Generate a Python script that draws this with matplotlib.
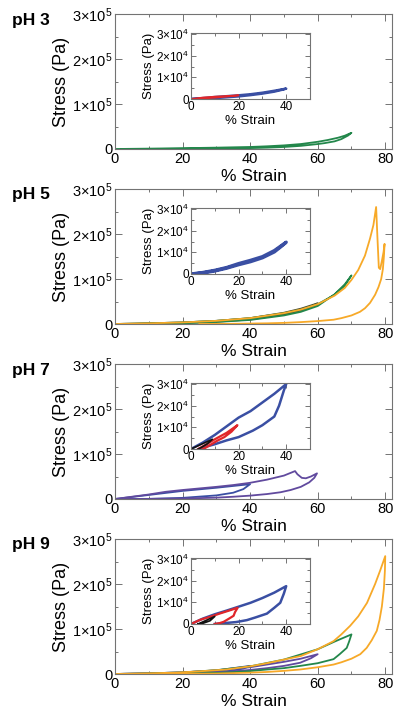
import matplotlib
matplotlib.use("Agg")
import matplotlib.pyplot as plt
from matplotlib.ticker import MultipleLocator, FixedLocator, FixedFormatter

plt.rcParams['font.family'] = ['Liberation Sans', 'DejaVu Sans']
plt.rcParams['mathtext.fontset'] = 'custom'
plt.rcParams['mathtext.rm'] = 'Liberation Sans'
plt.rcParams['mathtext.it'] = 'Liberation Sans:italic'
plt.rcParams['mathtext.bf'] = 'Liberation Sans:bold'

# ---------------- data ----------------
panel_labels = ['pH 3', 'pH 5', 'pH 7', 'pH 9']
main_yticks = [0, 1e5, 2e5, 3e5]
main_ylabels = ['0', r'$1{\times}10^5$', r'$2{\times}10^5$', r'$3{\times}10^5$']
inset_yticks = [0, 1e4, 2e4, 3e4]
inset_ylabels = ['0', r'$1{\times}10^4$', r'$2{\times}10^4$', r'$3{\times}10^4$']
main_xticks = [0, 20, 40, 60, 80]
inset_xticks = [0, 20, 40]

# pH 3 main
ph3_green_strain = [0, 10, 20, 30, 40, 45, 50, 55, 60, 63, 66, 68, 70,
                    69, 67, 65, 62, 60, 55, 50, 45, 40, 30, 20, 10, 2]
ph3_green_stress = [0, 800, 1800, 3000, 4500, 6000, 8000, 11000, 16000, 20000, 25000, 29500, 36000,
                    30000, 22000, 17000, 13000, 11000, 7000, 4500, 3000, 2000, 1000, 400, 100, 0]
# pH 3 inset
ph3_in_blue_strain = [0, 5, 10, 15, 20, 25, 30, 35, 40, 38, 35, 30, 25, 20, 15, 10, 5, 1]
ph3_in_blue_stress = [0, 400, 900, 1300, 1700, 2200, 2900, 3800, 4800,
                      4200, 3400, 2500, 1800, 1200, 800, 400, 100, 0]
ph3_in_red_strain = [0, 5, 10, 15, 20, 15, 10, 5, 1]
ph3_in_red_stress = [0, 700, 1100, 1400, 1700, 1100, 600, 200, 0]

# pH 5 main
ph5_dark_strain = [0, 10, 20, 30, 40, 50, 55, 60, 58, 55, 50, 40, 30, 20, 10, 3]
ph5_dark_stress = [0, 1500, 3500, 7000, 13000, 25000, 34000, 46000,
                   38000, 30000, 21000, 10000, 5000, 2000, 500, 0]
ph5_green_strain = [0, 10, 20, 30, 40, 50, 55, 60, 65, 68, 70,
                    68, 65, 60, 55, 50, 40, 30, 20, 10, 3]
ph5_green_stress = [0, 1500, 3500, 7000, 13000, 24000, 32000, 44000, 65000, 85000, 108000,
                    88000, 66000, 40000, 27000, 19000, 9000, 4500, 1800, 400, 0]
ph5_orange_strain = [0, 10, 20, 30, 40, 50, 55, 60, 65, 68, 70, 72, 74, 75.5, 76.5, 77.3,
                     77.7, 78.1, 78.5, 79.0, 79.5, 79.8,
                     79.6, 79.3, 78.8, 78.0, 77.0, 75.5, 74.0, 72.5, 70, 67, 64.7,
                     60, 55, 50, 45, 35, 25]
ph5_orange_stress = [0, 1500, 3500, 7000, 13000, 24000, 32000, 44000, 63000, 80000, 98000,
                     120000, 152000, 190000, 220000, 260000,
                     190000, 125000, 122000, 140000, 160000, 178000,
                     150000, 122000, 100000, 82000, 65000, 47000, 35000, 27000, 19000,
                     13000, 9500, 6500, 4200, 2500, 1500, 500, 0]
# pH 5 inset
ph5_in_blue_strain = [0, 5, 10, 15, 20, 25, 30, 35, 40, 38, 35, 30, 25, 20, 15, 10, 5, 1]
ph5_in_blue_stress = [0, 700, 1700, 3000, 4800, 6300, 8000, 10800, 14700,
                      12800, 10200, 7500, 5700, 4300, 2700, 1400, 500, 0]
ph5_in_black_strain = [0, 4, 8, 10, 8, 4, 1]
ph5_in_black_stress = [0, 600, 1300, 1800, 1000, 300, 0]

# pH 7 main
ph7_blue_strain = [0, 10, 20, 30, 40, 38, 35, 30, 20, 10, 3]
ph7_blue_stress = [0, 9000, 18000, 25000, 33000, 22000, 14000, 8000, 2500, 300, 0]
ph7_purple_strain = [0, 10, 15, 20, 30, 35, 40, 45, 50, 53.3, 54, 55.3, 56.5, 58, 59.8,
                     59, 57.5, 55, 52, 49, 45, 40, 35, 30, 20, 10, 3]
ph7_purple_stress = [0, 10000, 16000, 20000, 27000, 31000, 36000, 43000, 52000, 62000,
                     55000, 47000, 46000, 50000, 57000,
                     47000, 37000, 27000, 20000, 15000, 11000, 7500, 5000, 3000, 1000, 200, 0]
# pH 7 inset
ph7_in_blue_strain = [0, 5, 10, 15, 20, 25, 30, 35, 40, 39, 37, 35, 30, 26, 20, 15, 10, 6.7, 3.5]
ph7_in_blue_stress = [0, 3000, 6500, 10500, 14500, 17500, 21500, 25500, 30000,
                      27000, 20000, 15000, 11000, 8500, 5500, 4000, 2200, 1200, 0]
ph7_in_red_strain = [3, 7, 10, 15, 19.5, 17, 14, 11, 8, 6, 5]
ph7_in_red_stress = [0, 2500, 4500, 7500, 11000, 8000, 5500, 3800, 1800, 500, 0]
ph7_in_black_strain = [0, 5, 9, 7, 4, 3]
ph7_in_black_stress = [0, 2500, 4500, 2500, 500, 0]

# pH 9 main
ph9_blue_strain = [0, 10, 20, 30, 40, 38, 35, 30, 25, 20, 10, 5]
ph9_blue_stress = [0, 1500, 3500, 8000, 18000, 12000, 8000, 5000, 3000, 1500, 300, 0]
ph9_purple_strain = [0, 10, 20, 30, 40, 50, 55, 60, 58, 54.8, 50, 45, 40, 35, 30, 20, 10, 5]
ph9_purple_stress = [0, 1500, 3500, 8000, 15000, 27000, 34000, 44000,
                     35000, 25000, 18000, 13000, 9000, 6000, 4000, 1500, 200, 0]
ph9_green_strain = [0, 10, 20, 30, 40, 50, 60, 65, 70, 69.3, 68.6, 66.5, 64.7, 60, 54.8,
                    50, 45, 40, 35, 30, 20, 10]
ph9_green_stress = [0, 1500, 3500, 8500, 17000, 32000, 55000, 72000, 88000, 72000, 58000,
                    44000, 33000, 24000, 18000, 13000, 10000, 6500, 4000, 2500, 800, 0]
ph9_orange_strain = [0, 10, 18, 25, 33, 40, 45, 50, 55, 60, 64.7, 67, 69.6, 72, 74.6, 77,
                     78.5, 80,
                     79.9, 79.6, 79.0, 78.3, 77.5, 76.0, 74.5, 72.6, 70, 67, 64.7, 60, 54.8,
                     50, 45, 40, 30, 20, 12]
ph9_orange_stress = [0, 1500, 3000, 6000, 10000, 17000, 24000, 32000, 40000, 55000, 73000,
                     88000, 107000, 128000, 158000, 200000, 230000, 262000,
                     230000, 190000, 150000, 120000, 96000, 75000, 58000, 44000, 34000,
                     26000, 21000, 15000, 10000, 7000, 4500, 3000, 1000, 200, 0]
# pH 9 inset
ph9_in_blue_strain = [0, 5, 10, 15, 20, 25, 30, 35, 40, 39, 37.5, 35, 31.9, 27, 23.5, 19, 15, 10]
ph9_in_blue_stress = [0, 2500, 4500, 6200, 8000, 9800, 12000, 14500, 17500,
                      14000, 9800, 7500, 4800, 3000, 1800, 900, 500, 0]
ph9_in_red_strain = [0, 4, 8, 12, 16, 19.6, 18.5, 17.9, 16, 13.7, 12, 10]
ph9_in_red_stress = [0, 2000, 3300, 4800, 6200, 7500, 5500, 3800, 2500, 1000, 400, 0]
ph9_in_black_strain = [3, 6, 10, 8, 5, 3]
ph9_in_black_stress = [0, 1500, 3500, 1500, 300, 0]

# ---------------- styles ----------------
GREEN = '#23874b'
ORANGE = '#f7a928'
BLUE = '#3a4fa3'
PURPLE = '#614a9e'
RED = '#e0262a'
DARK = '#4a4a2e'
BLACK = '#111111'

main_curves = [
    [(ph3_green_strain, ph3_green_stress, GREEN)],
    [(ph5_dark_strain, ph5_dark_stress, DARK),
     (ph5_green_strain, ph5_green_stress, GREEN),
     (ph5_orange_strain, ph5_orange_stress, ORANGE)],
    [(ph7_blue_strain, ph7_blue_stress, BLUE),
     (ph7_purple_strain, ph7_purple_stress, PURPLE)],
    [(ph9_blue_strain, ph9_blue_stress, BLUE),
     (ph9_purple_strain, ph9_purple_stress, PURPLE),
     (ph9_green_strain, ph9_green_stress, GREEN),
     (ph9_orange_strain, ph9_orange_stress, ORANGE)],
]
inset_curves = [
    [(ph3_in_blue_strain, ph3_in_blue_stress, BLUE, 1.8),
     (ph3_in_red_strain, ph3_in_red_stress, RED, 1.2)],
    [(ph5_in_black_strain, ph5_in_black_stress, BLACK, 1.2),
     (ph5_in_blue_strain, ph5_in_blue_stress, BLUE, 2.4)],
    [(ph7_in_blue_strain, ph7_in_blue_stress, BLUE, 1.8),
     (ph7_in_red_strain, ph7_in_red_stress, RED, 1.6),
     (ph7_in_black_strain, ph7_in_black_stress, BLACK, 1.2)],
    [(ph9_in_blue_strain, ph9_in_blue_stress, BLUE, 1.8),
     (ph9_in_red_strain, ph9_in_red_stress, RED, 1.6),
     (ph9_in_black_strain, ph9_in_black_stress, BLACK, 1.2)],
]

W, H = 400, 712
fig = plt.figure(figsize=(4.0, 7.12), dpi=100)

FRAME = '0.45'


def style_axes(ax, fs_tick, maj, mnr, xpad, ypad):
    for s in ax.spines.values():
        s.set_color(FRAME)
        s.set_linewidth(0.8)
    ax.tick_params(which='both', direction='in', top=True, right=True,
                   color=FRAME, width=0.7, labelsize=fs_tick)
    ax.tick_params(axis='x', pad=xpad)
    ax.tick_params(axis='y', pad=ypad)
    ax.tick_params(which='major', length=maj)
    ax.tick_params(which='minor', length=mnr)


for k in range(4):
    top = 14 + 175 * k
    ax = fig.add_axes([115 / W, 1 - (top + 135) / H, 277 / W, 135 / H])
    for xs, ys, c in main_curves[k]:
        ax.plot(xs, ys, color=c, lw=1.3, solid_joinstyle='round')
    ax.set_xlim(0, 82)
    ax.set_ylim(0, 3e5)
    ax.xaxis.set_major_locator(FixedLocator(main_xticks))
    ax.xaxis.set_minor_locator(MultipleLocator(10))
    ax.yaxis.set_major_locator(FixedLocator(main_yticks))
    ax.yaxis.set_major_formatter(FixedFormatter(main_ylabels))
    ax.yaxis.set_minor_locator(MultipleLocator(5e4))
    style_axes(ax, 10.5, 5, 2.5, 2.5, 2.0)
    ax.set_xlabel('% Strain', fontsize=12.5, labelpad=1.5)
    ax.set_ylabel('Stress (Pa)', fontsize=13, labelpad=1)

    fig.text(12 / W, 1 - (top + 6) / H, panel_labels[k], fontsize=12.5,
             fontweight='bold', ha='left', va='center')

    itop = top + 19
    ia = fig.add_axes([191 / W, 1 - (itop + 66) / H, 119 / W, 66 / H])
    for xs, ys, c, lw in inset_curves[k]:
        ia.plot(xs, ys, color=c, lw=lw, solid_joinstyle='round')
    ia.set_xlim(0, 50)
    ia.set_ylim(0, 3.05e4)
    ia.xaxis.set_major_locator(FixedLocator(inset_xticks))
    ia.xaxis.set_minor_locator(MultipleLocator(10))
    ia.yaxis.set_major_locator(FixedLocator(inset_yticks))
    ia.yaxis.set_major_formatter(FixedFormatter(inset_ylabels))
    ia.yaxis.set_minor_locator(MultipleLocator(5e3))
    style_axes(ia, 8.5, 3.5, 2, 1.5, 1.5)
    ia.set_xlabel('% Strain', fontsize=9.5, labelpad=1.5)
    ia.set_ylabel('Stress (Pa)', fontsize=9.5, labelpad=1)

fig.savefig('out.png', dpi=100)
